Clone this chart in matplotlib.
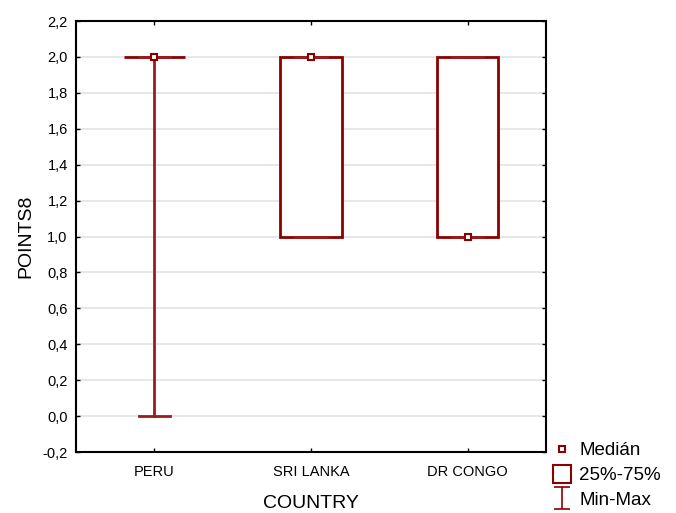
import numpy as np
import matplotlib.pyplot as plt
from matplotlib.lines import Line2D
from matplotlib.path import Path
from matplotlib.ticker import FuncFormatter, MultipleLocator

plt.rcParams['font.family'] = ['Liberation Sans', 'DejaVu Sans']

countries = ["PERU", "SRI LANKA", "DR CONGO"]
mins = [0.0, 1.0, 1.0]
q1s = [2.0, 1.0, 1.0]
medians = [2.0, 2.0, 1.0]
q3s = [2.0, 2.0, 2.0]
maxs = [2.0, 2.0, 2.0]

red = '#8b0000'

fig = plt.figure(figsize=(6.76, 5.13), dpi=100)
ax = fig.add_axes([0.1124, 0.1189, 0.6953, 0.8401])

stats = []
for i in range(len(countries)):
    stats.append(dict(whislo=mins[i], q1=q1s[i], med=medians[i], q3=q3s[i],
                      whishi=maxs[i], fliers=[], label=countries[i]))

pos = np.arange(1, len(countries) + 1)
ax.bxp(stats, positions=pos, widths=0.39, capwidths=0.2, patch_artist=True,
       boxprops=dict(facecolor='white', edgecolor=red, linewidth=2),
       whiskerprops=dict(color='#9b1c1c', linewidth=2),
       capprops=dict(color='#9b1c1c', linewidth=2),
       medianprops=dict(linestyle='none'),
       zorder=3)
ax.plot(pos, medians, linestyle='none', marker='s', markersize=4.5,
        markerfacecolor='white', markeredgecolor=red, markeredgewidth=1.5, zorder=4)

ax.set_xlim(0.5, 3.5)
ax.set_ylim(-0.2, 2.2)
ax.yaxis.set_major_locator(MultipleLocator(0.2))
ax.yaxis.set_major_formatter(FuncFormatter(lambda v, p: f"{v:.1f}".replace('.', ',').replace('-0,0', '0,0')))
ax.set_xticks(pos)
ax.set_xticklabels(countries, fontsize=10.5)
ax.tick_params(axis='y', labelsize=10.5, pad=6)
ax.tick_params(axis='x', pad=9)
ax.tick_params(direction='in', top=True, right=True, length=3, width=1)
ax.grid(axis='y', color='#e3e3e3', linewidth=1.2, zorder=0)
ax.set_axisbelow(True)
for s in ax.spines.values():
    s.set_linewidth(1.5)

ax.set_xlabel("COUNTRY", fontsize=14, labelpad=12)
ax.set_ylabel("POINTS8", fontsize=14, labelpad=6)

# I-beam glyph for the Min-Max legend entry
ibeam = Path([(-0.7, -1), (0.7, -1), (0, -1), (0, 1), (-0.7, 1), (0.7, 1)],
             [Path.MOVETO, Path.LINETO, Path.MOVETO, Path.LINETO, Path.MOVETO, Path.LINETO])
handles = [
    Line2D([], [], linestyle='none', marker='s', markersize=4.5, markerfacecolor='white',
           markeredgecolor=red, markeredgewidth=1.5),
    Line2D([], [], linestyle='none', marker='s', markersize=12.5, markerfacecolor='white',
           markeredgecolor=red, markeredgewidth=1.5),
    Line2D([], [], linestyle='none', marker=ibeam, markersize=16, markerfacecolor='none',
           markeredgecolor=red, markeredgewidth=1.2),
]
fig.legend(handles, ["Medián", "25%-75%", "Min-Max"], loc='upper left',
           bbox_to_anchor=(0.803, 0.156), frameon=False, fontsize=13.5,
           handlelength=1.0, handletextpad=0.45, labelspacing=0.4, borderpad=0)

fig.savefig("out.png", dpi=100)
